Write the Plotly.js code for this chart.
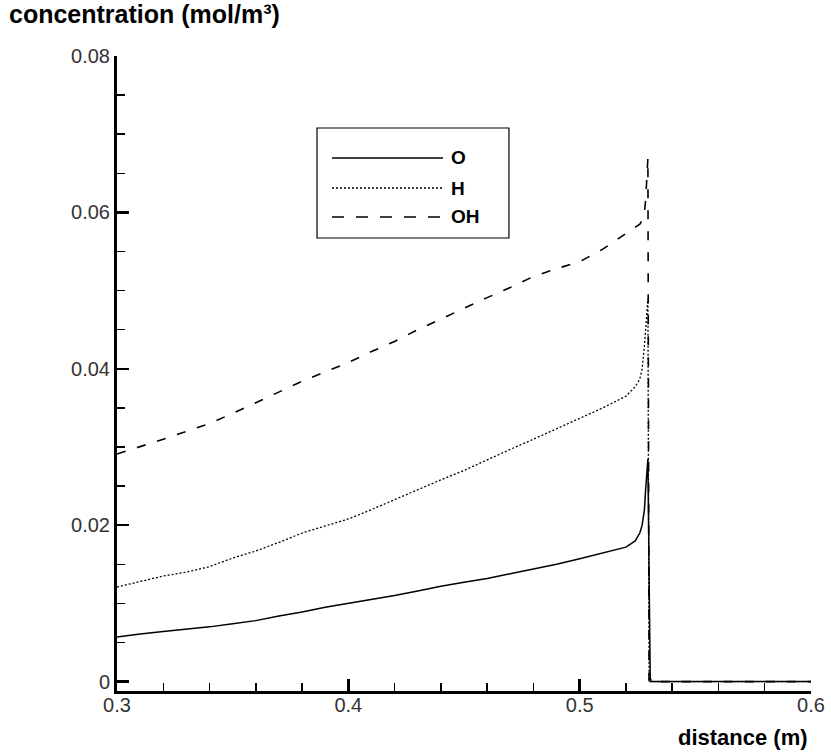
<!DOCTYPE html>
<html>
<head>
<meta charset="utf-8">
<script src="https://cdn.plot.ly/plotly-3.0.1.min.js"></script>
<style>
  html, body { margin: 0; padding: 0; background: #fff; }
  #chart { width: 831px; height: 753px; }
</style>
</head>
<body>
<div id="chart"></div>
<script>
// ---- data ----
const distance = [0.300, 0.310, 0.320, 0.330, 0.340, 0.350, 0.360, 0.370, 0.380, 0.390,
                  0.400, 0.410, 0.420, 0.430, 0.440, 0.450, 0.460, 0.470, 0.480, 0.490,
                  0.500, 0.510, 0.520, 0.524, 0.526, 0.527, 0.528, 0.5285, 0.529, 0.5295,
                  0.5300, 0.5305, 0.531, 0.540, 0.560, 0.580, 0.600];

const concO  = [0.0057, 0.0061, 0.0064, 0.0067, 0.0070, 0.0074, 0.0078, 0.0084, 0.0089, 0.0095,
                0.0100, 0.0105, 0.0110, 0.0116, 0.0122, 0.0127, 0.0132, 0.0138, 0.0144, 0.0150,
                0.0157, 0.0164, 0.0172, 0.0180, 0.0190, 0.0200, 0.0220, 0.0245, 0.0270, 0.0285,
                0.0140, 0.0005, 0.0, 0.0, 0.0, 0.0, 0.0];

const concH  = [0.0121, 0.0128, 0.0135, 0.0140, 0.0147, 0.0158, 0.0167, 0.0178, 0.0190, 0.0199,
                0.0208, 0.0220, 0.0233, 0.0245, 0.0258, 0.0270, 0.0284, 0.0297, 0.0310, 0.0323,
                0.0336, 0.0350, 0.0365, 0.0377, 0.0387, 0.0400, 0.0430, 0.0455, 0.0480, 0.0490,
                0.0000, 0.0, 0.0, 0.0, 0.0, 0.0, 0.0];

const concOH = [0.0291, 0.0300, 0.0310, 0.0320, 0.0330, 0.0343, 0.0357, 0.0370, 0.0384, 0.0396,
                0.0408, 0.0422, 0.0435, 0.0450, 0.0464, 0.0478, 0.0491, 0.0504, 0.0518, 0.0528,
                0.0537, 0.0553, 0.0573, 0.0580, 0.0585, 0.0590, 0.0600, 0.0615, 0.0640, 0.0670,
                0.0000, 0.0, 0.0, 0.0, 0.0, 0.0, 0.0];

const seriesNames = ['O', 'H', 'OH'];
const xTickVals = [0.3, 0.4, 0.5, 0.6];
const xTickText = ['0.3', '0.4', '0.5', '0.6'];
const yTickVals = [0, 0.02, 0.04, 0.06, 0.08];
const yTickText = ['0', '0.02', '0.04', '0.06', '0.08'];
const xTitle = 'distance (m)';
const yTitle = 'concentration (mol/m³)';

// ---- styles ----
const dashes = ['solid', '2px,2px', '9px,12px'];
const widths = [1.5, 1.3, 1.6];
const seriesY = [concO, concH, concOH];

const traces = seriesY.map((ys, i) => ({
  type: 'scatter', mode: 'lines', name: seriesNames[i],
  x: distance, y: ys,
  line: { color: '#000', width: widths[i], dash: dashes[i] },
  showlegend: false, hoverinfo: 'skip'
}));

// custom legend (paper coordinates)
const legBox = { x0: 0.2882, x1: 0.5648, y0: 0.7134, y1: 0.8866 };
const legRows = [0.8394, 0.7921, 0.7465];
const legendDash = ['solid', '2px,2px', '12px,12px'];
const shapes = [{
  type: 'rect', xref: 'paper', yref: 'paper',
  x0: legBox.x0, x1: legBox.x1, y0: legBox.y0, y1: legBox.y1,
  line: { color: '#000', width: 1.2 }, fillcolor: '#fff'
}];
const annotations = [];
seriesNames.forEach((n, i) => {
  shapes.push({
    type: 'line', xref: 'paper', yref: 'paper',
    x0: 0.3098, x1: 0.4697, y0: legRows[i], y1: legRows[i],
    line: { color: '#000', width: widths[i], dash: legendDash[i] }
  });
  annotations.push({
    xref: 'paper', yref: 'paper', x: 0.4790, y: legRows[i],
    xanchor: 'left', yanchor: 'middle', showarrow: false, text: '<b>' + n + '</b>',
    font: { family: 'Liberation Sans, Arial, sans-serif', size: 19, color: '#000' }
  });
});
annotations.push({
  xref: 'paper', yref: 'paper', x: -0.158, y: 1.066, xanchor: 'left', yanchor: 'middle',
  showarrow: false, text: '<b>' + yTitle + '</b>',
  font: { family: 'Liberation Sans, Arial, sans-serif', size: 25, color: '#000' }
});
annotations.push({
  xref: 'paper', yref: 'paper', x: 0.9986, y: -0.074, xanchor: 'right', yanchor: 'middle',
  showarrow: false, text: '<b>' + xTitle + '</b>',
  font: { family: 'Liberation Sans, Arial, sans-serif', size: 22, color: '#000' }
});

const tickFont = { family: 'Liberation Sans Narrow, Liberation Sans, Arial, sans-serif', size: 20, color: '#333' };

const layout = {
  width: 831, height: 753,
  paper_bgcolor: '#fff', plot_bgcolor: '#fff',
  margin: { l: 117, r: 20, t: 56, b: 62 },
  showlegend: false,
  xaxis: {
    range: [0.3, 0.6], showgrid: false, zeroline: false,
    showline: true, linecolor: '#000', linewidth: 3,
    ticks: 'inside', ticklen: 12, tickwidth: 2.5, tickcolor: '#000',
    tickvals: xTickVals, ticktext: xTickText, tickfont: tickFont,
    ticklabelstandoff: -6,
    minor: { dtick: 0.02, ticks: 'inside', ticklen: 8, tickwidth: 1.5, tickcolor: '#000', showgrid: false }
  },
  yaxis: {
    range: [-0.0012, 0.08], showgrid: false, zeroline: false,
    showline: true, linecolor: '#000', linewidth: 3,
    ticks: 'inside', ticklen: 12, tickwidth: 2.5, tickcolor: '#000',
    tickvals: yTickVals, ticktext: yTickText, tickfont: tickFont,
    ticklabelstandoff: 0,
    minor: { tick0: 0, dtick: 0.005, ticks: 'inside', ticklen: 8, tickwidth: 1.5, tickcolor: '#000', showgrid: false }
  },
  shapes: shapes,
  annotations: annotations
};

Plotly.newPlot('chart', traces, layout, { displayModeBar: false, staticPlot: true });
</script>
</body>
</html>
